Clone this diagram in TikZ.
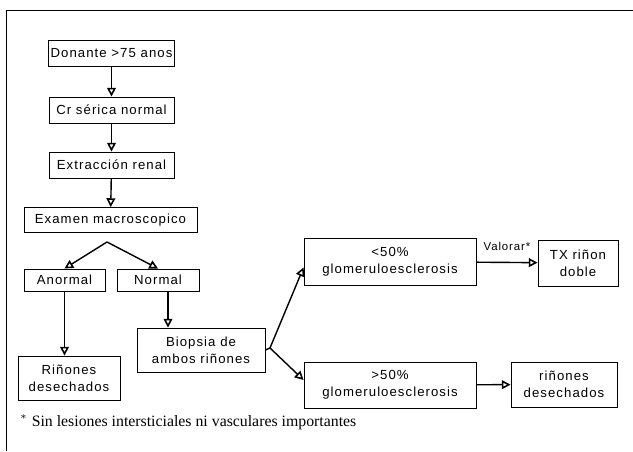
\documentclass[tikz,border=0pt]{standalone}
\usepackage{fontspec}
\setmainfont{Liberation Serif}
\setsansfont{Liberation Sans}[LetterSpace=8]
\usetikzlibrary{arrows.meta}
\begin{document}
\begin{tikzpicture}[x=0.02cm,y=-0.02cm,
    caja/.style={draw,line width=0.5pt,inner sep=1pt,font=\sffamily\fontsize{7.5}{9.6}\selectfont,align=center},
    flecha/.style={-{Triangle[open,length=5pt,width=5pt,line width=0.9pt]},line width=0.8pt}]
    \useasboundingbox (0,0) rectangle (633,452);
    % \draw[help lines,step=50] (0,0) grid (633,452);
    \draw[line width=0.5pt] (6,451) -- (6,10) -- (633,10);
    % columna izquierda
    \node[caja,minimum width=125*0.02cm,minimum height=26*0.02cm] (don) at (111.5,53) {Donante >75 anos};
    \node[caja,minimum width=125*0.02cm,minimum height=26*0.02cm] (cr) at (111.5,110) {Cr sérica normal};
    \node[caja,minimum width=125*0.02cm,minimum height=26*0.02cm] (ext) at (111.5,165) {Extracción renal};
    \node[caja,minimum width=173*0.02cm,minimum height=25*0.02cm] (exa) at (110.5,220) {Examen macroscopico};
    \node[caja,minimum width=81*0.02cm,minimum height=22*0.02cm] (anor) at (64.5,280) {Anormal};
    \node[caja,minimum width=82*0.02cm,minimum height=22*0.02cm] (norm) at (158,280) {Normal};
    \node[caja,minimum width=102*0.02cm,minimum height=44*0.02cm] (rdes) at (69,378) {Riñones\\desechados};
    \node[caja,minimum width=128*0.02cm,minimum height=44*0.02cm] (bio) at (201,350) {Biopsia de\\ambos riñones};
    % columna derecha
    \node[caja,minimum width=172*0.02cm,minimum height=47*0.02cm] (lt) at (390,261.5) {<50\%\\glomeruloesclerosis};
    \node[caja,minimum width=80*0.02cm,minimum height=46*0.02cm] (tx) at (578,263) {TX riñon\\doble};
    \node[caja,minimum width=172*0.02cm,minimum height=46*0.02cm] (gt) at (390,385) {>50\%\\glomeruloesclerosis};
    \node[caja,minimum width=106*0.02cm,minimum height=45*0.02cm] (rdes2) at (564,384.5) {riñones\\desechados};
    % flechas
    \draw[flecha] (don) -- (cr);
    \draw[flecha] (cr) -- (ext);
    \draw[flecha] (ext) -- (exa);
    \coordinate (split) at (107,242);
    \draw[flecha] (split) -- (anor.north);
    \draw[flecha] (split) -- (norm.north);
    \draw[flecha] (anor.south) -- (anor.south |- rdes.north);
    \draw[flecha] ([xshift=0.2cm]norm.south) -- ([xshift=0.2cm]norm.south |- bio.north);
    \coordinate (fork) at (270,348);
    \draw[line width=0.8pt] (bio.east) -- (fork);
    \draw[flecha] (fork) -- ([yshift=-0.12cm]lt.west);
    \draw[flecha] (fork) -- ([yshift=0.1cm]gt.west);
    \draw[flecha] (lt) -- node[above=3pt,font=\sffamily\fontsize{6.5}{8}\selectfont] {Valorar*} (tx);
    \draw[flecha] (gt) -- (rdes2);
    \node[anchor=west,font=\fontsize{9}{10}\selectfont] (nota) at (14,422) {$^*$ Sin lesiones intersticiales ni vasculares importantes};
\end{tikzpicture}
\end{document}
